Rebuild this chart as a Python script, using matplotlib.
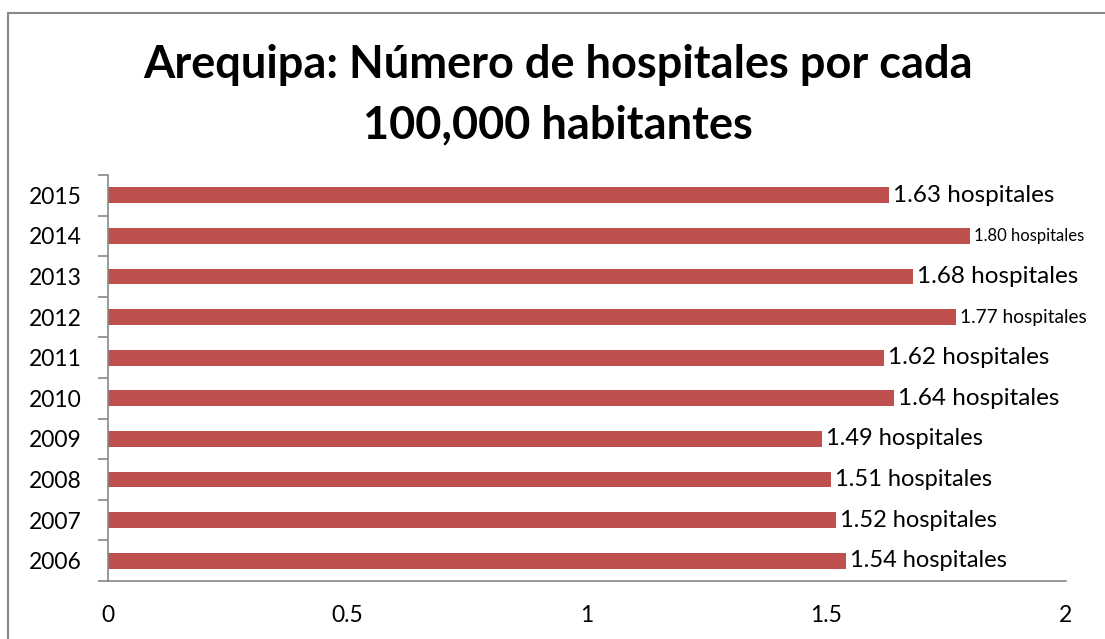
import matplotlib.pyplot as plt
from matplotlib.patches import Rectangle

plt.rcParams['font.family'] = ['Lato', 'DejaVu Sans']

years = ['2015', '2014', '2013', '2012', '2011', '2010', '2009', '2008', '2007', '2006']
values = [1.63, 1.80, 1.68, 1.77, 1.62, 1.64, 1.49, 1.51, 1.52, 1.54]
label_sizes = [17.5, 12, 17.5, 13.8, 17.5, 17.5, 17, 17, 17, 17]

W, H = 1105, 639
fig = plt.figure(figsize=(W / 100, H / 100), dpi=100)
ax = fig.add_axes([108 / W, 1 - 581 / H, (1066 - 108) / W, (581 - 175) / H])

ypos = list(range(len(years)))[::-1]
ax.barh(ypos, values, height=0.39, color='#C0504D')

for y, v, s in zip(ypos, values, label_sizes):
    ax.annotate('{:.2f} hospitales'.format(v), (v, y), xytext=(3, 0),
                textcoords='offset points', va='center', ha='left', fontsize=s)

ax.set_xlim(0, 2)
ax.set_ylim(-0.5, len(years) - 0.5)
ax.set_xticks([0, 0.5, 1, 1.5, 2])
ax.set_xticklabels(['0', '0.5', '1', '1.5', '2'], fontsize=16.5)
ax.set_yticks(ypos)
ax.set_yticklabels(years, fontsize=16.5)
ax.set_yticks([i - 0.5 for i in range(len(years) + 1)], minor=True)
ax.tick_params(axis='y', which='major', length=0, pad=19)
ax.tick_params(axis='y', which='minor', length=7, color='#888888', width=1.2)
ax.tick_params(axis='x', length=0, pad=17)
for side in ['top', 'right']:
    ax.spines[side].set_visible(False)
for side in ['left', 'bottom']:
    ax.spines[side].set_color('#888888')
    ax.spines[side].set_linewidth(1.2)

fig.text(0.505, 1 - 95 / H, 'Arequipa: Número de hospitales por cada\n100,000 habitantes',
         ha='center', va='center', fontsize=32.5, fontweight='bold', linespacing=1.55)

fig.patches.append(Rectangle((8 / W, -0.1), 1.2, 1 - 13 / H + 0.1, transform=fig.transFigure,
                             fill=False, edgecolor='#888888', linewidth=1.5))

fig.savefig('out.png', dpi=100)
